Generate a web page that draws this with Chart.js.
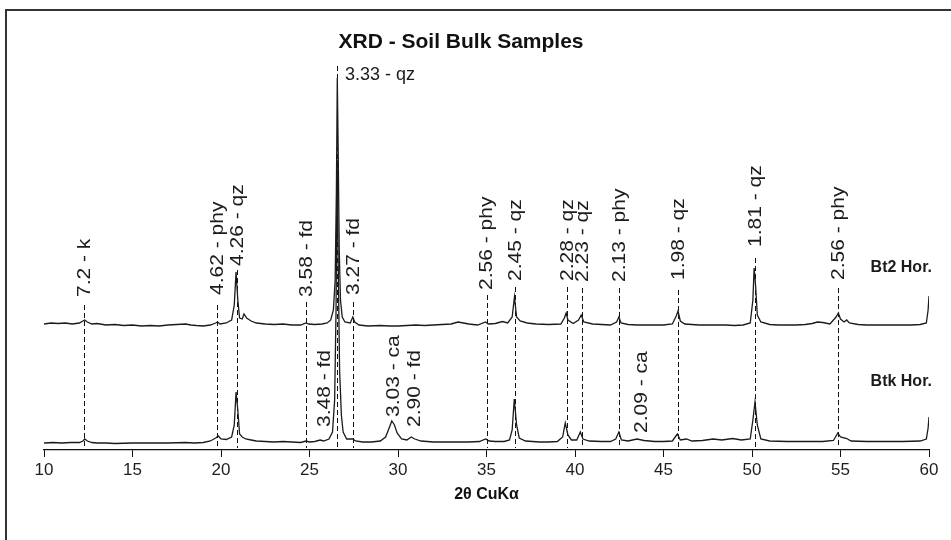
<!DOCTYPE html>
<html>
<head>
<meta charset="utf-8">
<title>XRD - Soil Bulk Samples</title>
<script src="https://cdn.jsdelivr.net/npm/chart.js@4.4.1/dist/chart.umd.min.js"></script>
<style>
  html, body { margin: 0; padding: 0; background: #fff; overflow: hidden; }
  #wrap { position: relative; width: 951px; height: 540px; }
  #frame { position: absolute; left: 5px; top: 9px; width: 1000px; height: 600px; border: 2px solid #333; box-sizing: border-box; pointer-events: none; }
  canvas { position: absolute; left: 0; top: 0; }
</style>
</head>
<body>
<div id="wrap">
  <canvas id="xrd" width="951" height="540"></canvas>
  <div id="frame"></div>
</div>
<script>
const FONT = "'Liberation Sans', Arial, sans-serif";

// Bt2 horizon trace (2theta, stacked intensity)
const bt2X = [10.0, 10.4, 10.8, 11.2, 11.6, 12.0, 12.2, 12.3, 12.45, 12.7, 13.0, 13.5, 14.0, 14.5, 15.0, 15.5, 16.0, 16.5, 17.0, 17.5,
  18.0, 18.3, 18.6, 19.0, 19.4, 19.7, 19.8, 19.95, 20.3, 20.6, 20.75, 20.85, 20.95, 21.05, 21.2, 21.3, 21.45, 21.7, 22.0, 22.5,
  23.0, 23.5, 24.0, 24.5, 24.8, 24.95, 25.3, 25.7, 26.0, 26.2, 26.35, 26.45, 26.52, 26.57, 26.62, 26.68, 26.75, 26.85, 27.0, 27.3,
  27.45, 27.55, 27.8, 28.3, 29.0, 29.5, 30.0, 30.5, 31.0, 31.5, 32.0, 32.5, 33.0, 33.4, 33.7, 34.0, 34.5, 34.95, 35.1, 35.5,
  35.9, 36.2, 36.45, 36.58, 36.7, 36.9, 37.3, 37.8, 38.5, 39.2, 39.4, 39.5, 39.6, 39.9, 40.2, 40.35, 40.5, 41.0, 41.5, 42.0,
  42.35, 42.48, 42.6, 43.0, 43.5, 44.0, 44.5, 45.0, 45.5, 45.72, 45.82, 45.95, 46.2, 47.0, 47.5, 48.0, 48.5, 49.0, 49.5, 49.9,
  50.05, 50.12, 50.2, 50.3, 50.5, 51.0, 51.5, 52.0, 52.5, 53.0, 53.4, 53.7, 54.0, 54.4, 54.75, 54.88, 55.0, 55.2, 55.35, 55.5,
  56.0, 56.5, 57.0, 57.5, 58.0, 58.5, 59.0, 59.5, 59.85, 59.95, 60.0];
const bt2Y = [126, 127, 126.5, 127, 126, 127, 129, 130, 128, 126, 126.5, 125, 125.5, 124.5, 125, 124, 124.5, 124, 125, 125.5,
  126, 125, 124.5, 124, 125, 127, 128, 126, 127, 130, 145, 178, 150, 132, 131, 136, 132, 129, 127, 126,
  125.5, 126, 125, 125, 127, 126, 125.5, 126, 127, 130, 140, 170, 260, 372, 300, 200, 150, 133, 128, 127,
  133, 128, 125, 124, 124.5, 124, 124, 124.5, 125, 124.5, 125, 125.5, 126, 128, 127, 126, 125, 128, 126, 126.5,
  128.5, 127, 133, 153, 133, 129, 127, 126, 125.5, 126, 132, 137, 130, 126.5, 130, 135, 128, 126, 125.5, 125,
  128, 133, 127, 125.5, 125, 125, 125, 125, 126, 134, 139, 129, 126, 125, 125, 125, 125, 124.5, 125, 127,
  150, 182, 165, 135, 128, 125.5, 125, 125, 125, 125.5, 126.5, 128, 127.5, 126, 133, 137, 131, 128, 130, 127,
  125.5, 125, 125, 125, 125, 125, 125, 125.5, 127, 140, 154];

// Btk horizon trace
const btkX = [10.0, 10.5, 11.0, 11.5, 12.0, 12.2, 12.3, 12.45, 12.7, 13.0, 13.5, 14.0, 15.0, 16.0, 17.0, 18.0, 18.5, 19.0, 19.4, 19.7,
  19.85, 20.0, 20.3, 20.6, 20.75, 20.85, 20.95, 21.05, 21.2, 21.4, 21.7, 22.0, 22.5, 23.0, 23.5, 24.0, 24.5, 24.8, 25.0, 25.3,
  25.6, 25.8, 26.1, 26.3, 26.42, 26.5, 26.56, 26.62, 26.7, 26.8, 26.9, 27.1, 27.45, 27.6, 28.0, 28.5, 29.0, 29.3, 29.5, 29.65,
  29.8, 29.95, 30.2, 30.5, 30.75, 30.95, 31.3, 32.0, 33.0, 34.0, 34.6, 34.95, 35.15, 35.5, 36.0, 36.3, 36.45, 36.57, 36.7, 36.85,
  37.2, 38.0, 38.5, 39.0, 39.3, 39.45, 39.6, 39.8, 40.1, 40.3, 40.45, 40.8, 41.5, 42.0, 42.3, 42.48, 42.62, 43.0, 43.5, 43.9,
  44.5, 45.0, 45.5, 45.78, 45.95, 46.3, 46.6, 47.2, 47.8, 48.3, 48.9, 49.4, 49.9, 50.05, 50.17, 50.3, 50.5, 51.0, 52.0, 53.0,
  54.0, 54.6, 54.85, 55.0, 55.35, 55.6, 56.5, 57.5, 58.5, 59.5, 59.85, 59.95, 60.0];
const btkY = [7, 7.5, 7, 7.5, 7.5, 9, 11, 9, 7.5, 7, 7, 6.5, 7, 7, 7, 7.5, 7, 7.5, 9, 12,
  14, 11, 10.5, 13, 25, 58, 40, 16, 13, 11, 10, 9, 8.5, 8, 8.5, 8, 7.5, 9, 8, 8.5,
  10, 9, 11, 18, 50, 140, 290, 190, 80, 35, 18, 11, 11, 9, 8, 8, 9, 13, 22, 29,
  25, 17, 11, 10, 13, 11, 9, 8, 8, 8, 8.5, 11, 9, 8.5, 8.5, 10, 20, 51, 25, 12,
  9, 8, 8, 8.5, 13, 27, 15, 10, 10, 18, 11, 9, 8.5, 8.5, 11, 18, 10, 9, 11, 9.5,
  8.5, 8.5, 9, 16, 10, 11, 9, 9.5, 11, 10, 11.5, 10, 11, 30, 48, 25, 11, 9, 8.5, 8.5,
  8.5, 9.5, 17, 13, 11.5, 9, 8.5, 8.5, 8.5, 9, 11, 22, 33];

// peak markers: position, label, top of dashed line, bottom of rotated text
const peakPos = [12.26, 19.76, 20.88, 24.8, 26.55, 27.47, 35.0, 36.6, 39.53, 40.38, 42.49, 45.84, 50.17, 54.88];
const peakText = ['7.2 - k', '4.62 - phy', '4.26 - qz', '3.58 - fd', '3.33 - qz', '3.27 - fd', '2.56 - phy', '2.45 - qz',
  '2.28 - qz', '2.23 - qz', '2.13 - phy', '1.98 - qz', '1.81 - qz', '2.56 - phy'];
const peakLineTop = [145, 145, 180, 148, 384, 148, 155, 163, 163, 162, 162, 160, 192, 162];
const peakTextBase = [153, 155, 184, 153, 375, 155, 160, 169, 169, 168, 168, 170, 203, 170];
const peakVertical = [true, true, true, true, false, true, true, true, true, true, true, true, true, true];
const lineBottom = 2;

// labels on the Btk trace without a marker line
const lowPos = [25.88, 29.77, 30.96, 43.77];
const lowText = ['3.48 - fd', '3.03 - ca', '2.90 - fd', '2.09 - ca'];
const lowBase = [23, 33, 23, 17];

const seriesNames = ['Bt2 Hor.', 'Btk Hor.'];
const seriesLabelX = [56.7, 56.7];
const seriesLabelY = [182, 68];

const peakMarks = {
  id: 'peakMarks',
  beforeDatasetsDraw(chart) {
    const {ctx, scales: {x, y}} = chart;
    ctx.save();
    ctx.strokeStyle = '#111';
    ctx.lineWidth = 1;
    ctx.setLineDash([5, 3]);
    peakPos.forEach((p, i) => {
      const px = Math.round(x.getPixelForValue(p)) + 0.5;
      ctx.beginPath();
      ctx.moveTo(px, y.getPixelForValue(peakLineTop[i]));
      ctx.lineTo(px, y.getPixelForValue(lineBottom));
      ctx.stroke();
    });
    ctx.restore();
  },
  afterDatasetsDraw(chart) {
    const {ctx, scales: {x, y}} = chart;
    ctx.save();
    ctx.fillStyle = '#1c1c1c';

    // rotated labels read bottom to top, a bit narrow across the glyphs
    const vertical = (txt, px, py) => {
      ctx.save();
      ctx.translate(px, py);
      ctx.rotate(-Math.PI / 2);
      ctx.scale(1, 0.85);
      ctx.font = '21px ' + FONT;
      ctx.textAlign = 'left';
      ctx.textBaseline = 'middle';
      ctx.fillText(txt, 0, 0);
      ctx.restore();
    };

    peakPos.forEach((p, i) => {
      const px = x.getPixelForValue(p);
      const py = y.getPixelForValue(peakTextBase[i]);
      if (peakVertical[i]) {
        vertical(peakText[i], px + 1, py);
      } else {
        ctx.font = '18px ' + FONT;
        ctx.textAlign = 'left';
        ctx.textBaseline = 'middle';
        ctx.fillText(peakText[i], px + 8, py);
      }
    });
    lowPos.forEach((p, i) => {
      vertical(lowText[i], x.getPixelForValue(p), y.getPixelForValue(lowBase[i]));
    });

    ctx.font = 'bold 16px ' + FONT;
    ctx.textAlign = 'left';
    ctx.textBaseline = 'middle';
    seriesNames.forEach((s, i) => {
      ctx.fillText(s, x.getPixelForValue(seriesLabelX[i]), y.getPixelForValue(seriesLabelY[i]));
    });

    // chart heading
    ctx.font = 'bold 21px ' + FONT;
    ctx.textAlign = 'center';
    ctx.fillStyle = '#111';
    ctx.fillText('XRD - Soil Bulk Samples', 461, 42);
    ctx.restore();
  }
};

const toPoints = (xs, ys) => xs.map((v, i) => ({x: v, y: ys[i]}));

new Chart(document.getElementById('xrd'), {
  type: 'scatter',
  data: {
    datasets: [
      { label: seriesNames[0], data: toPoints(bt2X, bt2Y), showLine: true, borderColor: '#1b1b1b', borderWidth: 1.3, pointRadius: 0, tension: 0 },
      { label: seriesNames[1], data: toPoints(btkX, btkY), showLine: true, borderColor: '#1b1b1b', borderWidth: 1.3, pointRadius: 0, tension: 0 }
    ]
  },
  options: {
    responsive: false,
    animation: false,
    events: [],
    layout: { padding: { left: 44, right: 22, top: 60, bottom: 36 } },
    plugins: {
      legend: { display: false },
      tooltip: { enabled: false },
      title: { display: false }
    },
    scales: {
      x: {
        type: 'linear',
        min: 10,
        max: 60,
        ticks: { stepSize: 5, color: '#1e1e1e', font: { family: FONT, size: 17 }, padding: 3, maxRotation: 0 },
        grid: { drawOnChartArea: false, drawTicks: true, tickLength: 7, color: '#111' },
        border: { display: true, color: '#111', width: 1.2 },
        title: { display: true, text: '2θ CuKα', color: '#111', font: { family: FONT, size: 16, weight: 'bold' }, padding: { top: 4, bottom: 0 } },
        afterFit(scale) { scale.height = 54; }
      },
      y: { display: false, min: 0, max: 390 }
    }
  },
  plugins: [peakMarks]
});
</script>
</body>
</html>
